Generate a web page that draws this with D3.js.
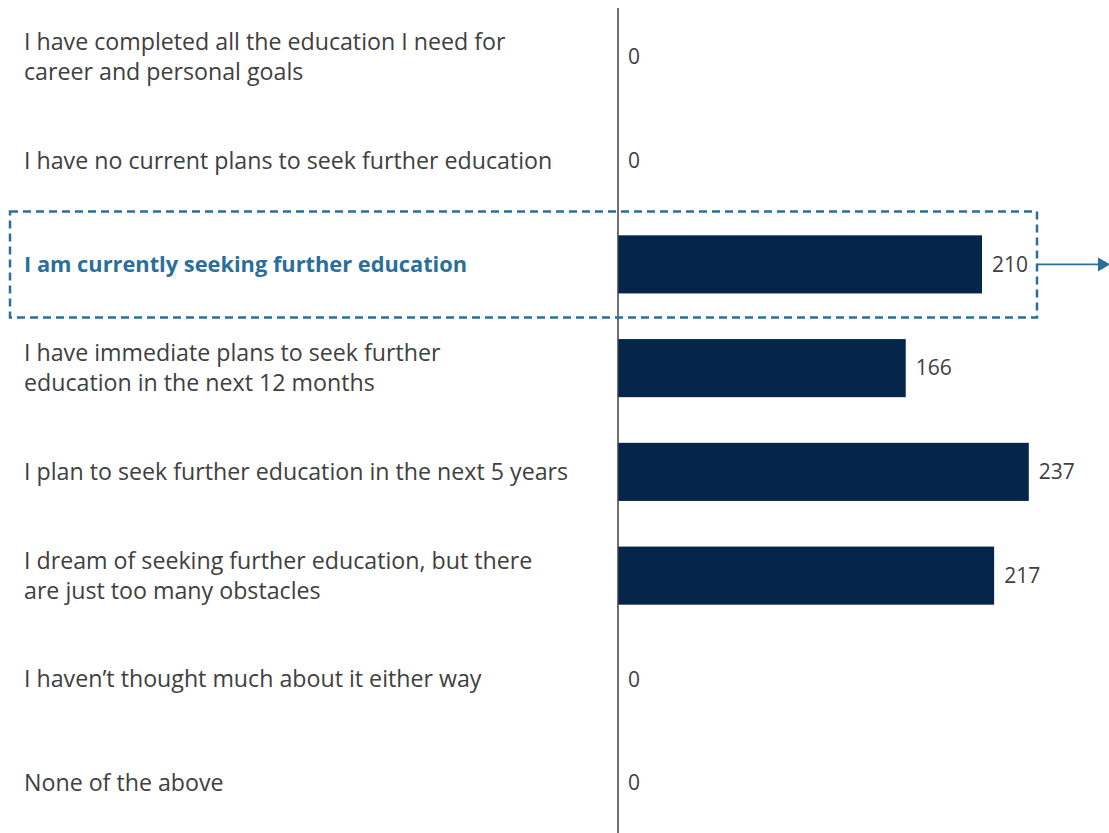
<!DOCTYPE html>
<html><head><meta charset="utf-8">
<script src="https://cdn.jsdelivr.net/npm/d3@7"></script>
<style>body{margin:0;background:#fff}</style>
</head><body>
<svg id="chart" width="1109" height="833"></svg>
<script>
const categories = [
  ["I have completed all the education I need for", "career and personal goals"],
  ["I have no current plans to seek further education"],
  ["I am currently seeking further education"],
  ["I have immediate plans to seek further", "education in the next 12 months"],
  ["I plan to seek further education in the next 5 years"],
  ["I dream of seeking further education, but there", "are just too many obstacles"],
  ["I haven\u2019t thought much about it either way"],
  ["None of the above"]
];
const values = [0, 0, 210, 166, 237, 217, 0, 0];
const highlightIndex = 2;

const svg = d3.select("#chart");
const FONT = "'Open Sans', sans-serif";
const x0 = 618;
const x = d3.scaleLinear().domain([0, 210]).range([x0, 982]);
const y = d3.scaleBand().domain(d3.range(categories.length)).range([5, 835]).paddingInner(0.44).paddingOuter(0.22);

svg.selectAll("rect.bar").data(values).join("rect")
  .attr("x", x(0)).attr("y", (d,i)=>y(i))
  .attr("width", d=>x(d)-x(0)).attr("height", y.bandwidth())
  .attr("fill", "#03264a");

svg.append("line").attr("x1", x0).attr("x2", x0).attr("y1", 8).attr("y2", 833)
  .attr("stroke", "#404040").attr("stroke-width", 1.5);

svg.selectAll("text.val").data(values).join("text")
  .attr("x", d=>x(d)+10).attr("y", (d,i)=>y(i)+y.bandwidth()/2)
  .attr("dy", "0.35em").attr("font-family", FONT).attr("font-size", 21)
  .attr("fill", "#404040").text(d=>d);

const lineH = 30;
categories.forEach((lines, i) => {
  const cy = y(i) + y.bandwidth()/2;
  const hl = i===highlightIndex;
  const t = svg.append("text").attr("x", 24).attr("font-family", FONT).attr("font-size", hl ? 21.8 : 23.2)
    .attr("fill", hl ? "#2a6f9b" : "#404040")
    .attr("font-weight", hl ? "bold" : "normal");
  lines.forEach((l, k) => {
    t.append("tspan").attr("x", 24)
      .attr("y", cy + (k - (lines.length-1)/2)*lineH).attr("dy", "0.35em").text(l);
  });
});

const hy = y(highlightIndex) + y.bandwidth()/2;
const col = "#2a6f9b";
svg.append("rect").attr("x", 10).attr("y", hy-53).attr("width", 1027).attr("height", 106)
  .attr("fill", "none").attr("stroke", col).attr("stroke-width", 2.5).attr("stroke-dasharray", "8,5");
svg.append("line").attr("x1", 1037).attr("x2", 1098).attr("y1", hy).attr("y2", hy)
  .attr("stroke", col).attr("stroke-width", 1.8);
svg.append("path").attr("d", `M1098,${hy-7}L1110,${hy}L1098,${hy+7}Z`).attr("fill", col);
</script>
</body></html>
